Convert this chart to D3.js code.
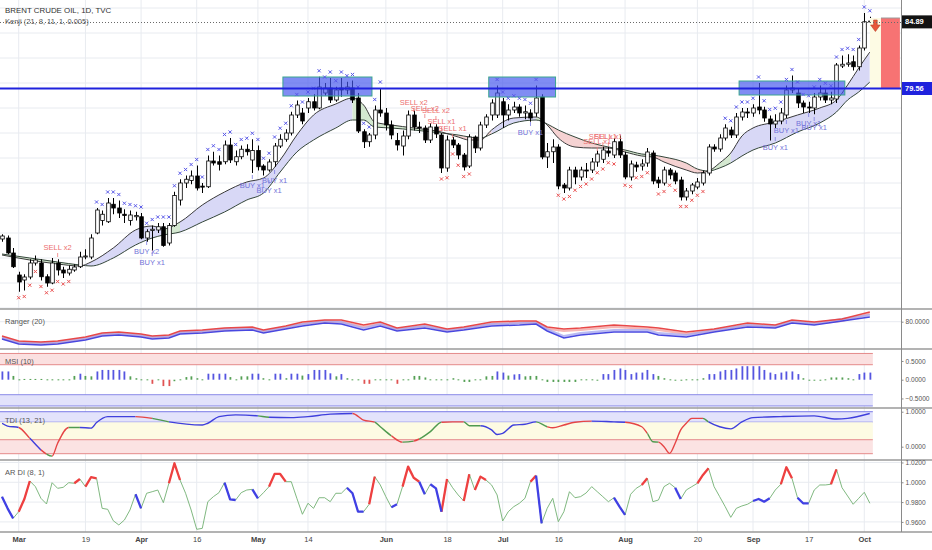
<!DOCTYPE html>
<html>
<head>
<meta charset="utf-8">
<title>Brent Crude Oil 1D</title>
<script src="https://cdnjs.cloudflare.com/ajax/libs/d3/7.8.5/d3.min.js"></script>
<style>
  html, body { margin: 0; padding: 0; background: #fff; overflow: hidden; }
  #chart svg { display: block; font-family: "Liberation Sans", Arial, sans-serif; }
</style>
</head>
<body>
<div id="chart"></div>
<script>
'use strict';

// daily bars, one per trading day from late Feb 2018 to early Oct 2018
var openP = [67.52,67.6,66.4,64.64,64.24,64.48,65.6,65.6,64.5,64.0,
  65.6,65.04,64.8,65.04,65.3,66.08,66.08,68.0,69.0,68.9,
  70.3,70.0,69.5,69.0,69.3,69.3,67.6,68.2,68.24,68.5,
  67.2,68.6,70.64,72.0,72.2,72.56,71.75,71.7,73.76,73.7,
  73.7,75.04,73.7,74.1,74.7,73.84,74.6,73.36,73.04,73.7,
  74.96,75.5,76.0,77.44,77.6,78.0,78.5,78.0,79.2,79.6,
  78.64,79.6,79.44,79.6,78.8,76.1,75.3,75.84,77.84,77.6,
  76.64,75.4,74.96,75.76,77.44,76.48,76.4,75.44,76.48,75.84,
  73.2,75.44,75.04,74.24,73.36,75.68,74.8,76.64,77.44,77.44,
  78.5,77.44,77.84,78.08,77.6,77.6,77.6,78.88,74.08,74.5,
  74.88,71.84,71.6,73.04,72.48,73.04,73.04,73.68,73.9,74.56,
  74.24,75.3,74.24,72.48,73.44,73.36,73.6,74.4,72.24,72.0,
  73.04,72.8,72.24,70.88,71.36,71.68,72.0,72.8,74.88,74.72,
  75.6,76.24,75.84,77.28,77.68,77.6,78.08,77.84,77.12,76.72,
  76.96,77.44,79.44,79.2,78.4,78.08,78.0,78.88,79.2,78.64,
  78.72,81.36,81.5,81.7,81.3,82.8,84.96];
var highP = [67.9,67.8,66.8,64.9,64.7,65.9,66.2,65.9,64.7,66.0,
  65.9,65.3,65.4,65.5,66.5,66.7,67.9,70.0,69.8,70.8,
  70.8,70.6,69.9,69.8,69.7,69.6,68.3,68.6,68.8,68.8,
  68.8,71.3,72.3,72.6,73.0,73.4,72.0,74.2,74.5,74.2,
  75.4,75.6,74.6,75.0,75.1,75.5,75.0,73.5,73.9,75.2,
  75.9,76.3,77.7,78.6,78.0,78.8,79.1,80.5,80.0,80.4,
  79.7,80.4,80.1,80.2,79.2,76.3,76.0,78.2,79.6,78.0,
  77.0,76.0,76.2,77.8,77.8,76.9,76.6,76.8,76.7,76.0,
  75.8,75.7,75.2,74.4,75.9,75.8,76.9,77.5,78.7,79.8,
  78.8,78.3,78.5,78.3,78.2,77.9,79.8,79.1,75.2,75.5,
  75.1,72.0,73.3,73.3,73.3,73.6,74.0,74.6,74.9,74.9,
  75.6,75.8,74.5,73.8,73.7,73.9,74.8,74.6,72.5,73.3,
  73.2,73.0,72.5,71.6,72.0,72.4,73.0,75.1,75.1,75.9,
  76.7,76.5,77.6,78.0,78.0,78.3,80.0,78.1,77.4,77.5,
  78.0,79.8,80.6,79.6,78.6,78.5,79.2,79.8,79.5,79.3,
  81.6,82.2,82.3,82.2,83.0,85.6,85.3];
var lowP = [67.3,66.3,65.2,63.3,63.4,64.3,65.4,64.2,63.7,63.9,
  64.6,64.4,64.6,64.9,65.2,65.9,65.9,67.9,68.6,68.8,
  69.5,69.2,68.8,68.6,69.0,67.5,67.3,66.6,68.0,66.9,
  67.0,68.5,70.2,71.6,71.9,71.4,71.2,71.6,73.4,73.0,
  73.5,73.6,73.4,73.9,74.2,72.8,73.0,72.6,72.9,73.3,
  74.8,75.3,75.8,77.2,76.7,77.6,77.8,77.9,79.0,78.4,
  78.5,78.9,79.1,78.4,76.0,74.8,74.9,75.5,77.3,76.2,
  75.5,74.6,74.2,75.5,76.2,76.0,75.2,75.2,75.6,72.8,
  72.9,74.8,73.9,73.0,73.2,74.4,74.6,76.4,77.0,77.2,
  76.4,77.0,77.6,77.3,77.1,76.9,77.3,73.9,73.2,73.6,
  71.5,71.2,71.4,71.9,72.2,72.4,72.8,73.3,73.6,74.1,
  74.0,74.0,72.3,72.2,72.9,73.0,73.3,71.9,71.6,71.8,
  72.3,71.9,70.6,70.6,71.1,71.5,71.8,72.6,74.5,74.5,
  75.4,75.6,75.6,77.0,77.2,77.3,77.5,76.9,75.4,76.4,
  76.7,77.2,79.2,78.0,77.6,77.6,77.5,78.6,78.4,78.3,
  78.4,81.2,81.3,81.0,81.0,82.6,84.5];
var closeP = [67.76,66.4,65.3,64.08,64.48,65.6,65.84,64.5,64.0,65.6,
  65.04,64.8,65.1,65.28,66.08,66.16,67.6,69.84,69.5,70.4,
  70.0,69.6,69.4,69.44,69.4,67.6,68.1,68.3,68.5,67.0,
  68.6,71.0,72.0,72.3,72.56,71.6,71.7,73.76,73.6,73.5,
  75.04,73.84,74.1,74.7,74.5,74.6,73.3,73.04,73.68,74.96,
  75.5,76.0,77.44,78.24,76.96,78.5,78.0,79.68,79.6,78.64,
  79.44,79.44,79.68,78.64,76.16,75.3,75.84,77.84,77.6,76.64,
  75.84,75.04,75.76,77.44,76.48,76.4,75.44,76.48,75.92,73.2,
  75.44,75.04,74.24,73.28,75.68,74.8,76.64,77.28,78.4,79.2,
  77.44,77.84,78.08,77.6,77.7,77.2,78.8,74.08,74.5,74.88,
  71.76,71.6,73.04,72.48,73.04,72.96,73.68,74.32,74.64,74.4,
  75.3,74.24,72.48,73.52,73.28,73.52,74.48,72.16,72.0,73.04,
  72.64,72.16,70.88,71.36,71.84,72.08,72.8,74.88,74.72,75.6,
  76.4,75.84,77.28,77.68,77.6,78.0,77.84,77.2,76.72,76.96,
  77.6,79.44,79.6,78.4,78.08,78.0,78.88,79.2,78.64,78.8,
  81.44,81.5,81.6,81.3,82.8,84.9,84.89];

// time axis: bar index of each label
var dateTicks = [3, 15, 25, 35, 46, 55, 69, 80, 90, 100, 112, 125, 135, 145, 155];
var dateLabels = ['Mar', '19', 'Apr', '16', 'May', '14', 'Jun', '18', 'Jul', '16', 'Aug', '20', 'Sep', '17', 'Oct'];
var priceTicks = [62, 64, 66, 68, 70, 72, 74, 76, 78, 80, 82, 84, 86];
var lastPrice = 84.89;
var levelPrice = 79.56;

// Kenji (21, 8, 11, 1, 0.005) lines, tone of the fill after each knot
var kenjiIdx = [0,5,10,14,16,20,24,27,29,32,36,40,44,47,50,53,56,60,63,65,67,70,74,79,82,84,86,88,92,96,
  98,100,103,106,109,112,115,117,119,123,125,127,129,131,133,135,139,143,147,150,152,154,156];
var kenjiFast = [66.24,65.84,65.52,65.36,65.68,66.8,68.24,68.56,68.32,68.88,70.24,71.28,72.08,72.4,73.84,75.84,77.44,78.32,78.8,78.24,
  76.88,76.64,76.4,76.08,75.68,75.44,75.44,76.24,77.2,77.28,76.64,75.6,74.88,74.8,74.8,74.48,74.16,74.08,73.68,73.04,
  72.8,72.96,73.6,74.4,75.76,76.4,76.88,77.44,78.0,78.64,79.84,81.2,82.48];
var kenjiSlow = [66.32,66.0,65.68,65.44,65.36,66.0,67.04,67.6,67.84,68.08,68.88,69.68,70.64,71.2,72.88,74.48,75.44,76.4,77.04,77.04,
  76.48,76.4,76.24,76.0,75.84,75.68,75.6,75.92,76.8,77.04,76.72,76.24,75.68,75.2,74.88,74.64,74.32,74.24,74.08,73.6,
  73.12,72.96,73.2,73.6,74.16,74.64,75.2,76.08,76.8,77.68,78.64,79.28,80.08];
var kenjiTone = ['g','g','g','b','b','b','b','b','g','b','b','b','b','b','b','b','b','b','g','g',
  'g','g','g','r','r','r','r','b','b','g','r','r','r','r','r','g','g','r','r','r',
  'r','g','g','b','b','b','b','b','b','b','b','b','b'];

// bars marked with a cross above the high (buy) or below the low (sell)
var buyCrossRuns = [[17, 68], [89, 96], [130, 156]];
var sellCrossRuns = [[3, 12], [79, 84], [100, 110], [112, 116], [118, 126]];

// signal labels
var sigIdx = [10, 26, 27, 45, 49, 48, 74, 76, 78, 79, 81, 95, 108, 109, 107, 139, 141, 145, 146];
var sigText = ['SELL x2', 'BUY x2', 'BUY x1', 'BUY x1', 'BUY x1', 'BUY x1', 'SELL x2', 'SELL x2', 'SELL x2', 'SELL x1',
  'SELL x1', 'BUY x1', 'SELL x1', 'SELL x1', 'SELL x1', 'BUY x1', 'BUY x1', 'BUY x1', 'BUY x1'];
var sigPrice = [66.64, 66.32, 65.44, 71.6, 72.0, 71.2, 78.24, 77.76, 77.6, 76.72,
  76.16, 75.84, 75.52, 75.52, 75.12, 74.64, 76.0, 76.56, 76.24];

// resistance boxes
var zoneStart = [51, 88, 133];
var zoneEnd = [66, 99, 151];
var zoneTop = [80.48, 80.48, 80.16];
var zoneBottom = [78.96, 78.88, 79.04];

// short position tool at the right edge
var posIdx = [156, 158, 161.4];
var posTop = 85.2;
var arrowIdx = 157;
var arrowTop = 85.04;

// Ranger (20)
var rangerIdx = [0,3,7,10,15,18,21,25,27,30,32,36,40,45,47,51,54,58,61,65,68,71,76,80,83,88,93,96,98,101,104,110,116,118,123,128,134,139,142,146,151,156];
var rangerUpper = [69.79,66.21,65.5,66.21,69.07,71.93,72.64,71.21,69.79,70.5,73.36,74.07,75.5,76.21,74.07,76.93,79.79,81.21,81.21,77.64,
  79.79,75.5,78.36,74.79,76.21,79.79,80.5,80.5,76.21,74.79,75.5,77.64,76.21,75.5,72.64,74.79,79.07,77.64,81.21,79.79,81.93,86.93];
var rangerLower = [67.64,64.07,63.36,64.07,66.93,69.79,70.5,69.07,67.64,68.36,71.21,71.93,73.36,74.07,71.93,74.79,76.93,79.07,78.36,74.07,
  76.93,73.36,75.5,72.64,74.07,76.93,77.64,78.36,73.36,68.36,70.5,72.64,72.64,70.5,69.07,72.64,76.21,75.5,79.07,77.64,80.5,83.36];
var rangerTicks = [80];

// MSI (10)
var msiVals = [0.22,0.22,0.10,0.01,0.02,0.02,0.02,0.02,0.01,0.01,
  0.01,0.01,0.01,0.10,0.16,0.10,0.09,0.22,0.26,0.26,
  0.26,0.26,0.22,0.09,0.04,0.01,0.01,-0.11,0.01,-0.17,
  -0.17,-0.04,0.01,0.07,0.09,0.04,0.01,0.16,0.16,0.16,
  0.16,0.07,0.01,0.09,0.09,0.16,0.16,0.04,0.01,0.16,
  0.16,0.04,0.16,0.16,0.11,0.15,0.26,0.26,0.26,0.17,
  0.09,0.15,0.04,0.01,0.01,-0.11,-0.11,0.01,0.01,0.01,
  0.01,-0.11,0.01,0.01,0.10,0.10,0.06,0.01,0.01,0.01,
  0.01,0.04,0.01,-0.06,-0.06,0.01,0.01,0.09,0.10,0.22,
  0.19,0.11,0.14,0.15,0.09,0.10,0.10,0.01,-0.06,-0.06,
  -0.06,-0.06,-0.06,-0.06,0.01,0.01,0.01,0.00,0.15,0.15,
  0.26,0.30,0.26,0.15,0.19,0.19,0.26,0.15,0.10,0.04,
  0.01,0.00,0.00,0.01,0.01,0.01,0.04,0.15,0.15,0.22,
  0.26,0.26,0.30,0.36,0.36,0.36,0.36,0.26,0.19,0.15,
  0.19,0.22,0.22,0.15,0.04,0.00,-0.02,0.00,0.01,0.06,
  0.06,0.06,0.04,0.01,0.15,0.19,0.19];
var msiTicks = [0.5, 0, -0.5];

// TDI (13, 21)
var tdiIdx = [0,1,3,5,7,8,9,10,12,14,16,17,19,24,27,30,36,37,39,42,46,48,52,55,59,63,65,67,68,70,
  72,74,75,77,79,81,83,84,86,88,89,90,92,94,96,98,99,101,103,106,110,112,115,116,117,118,119,120,121,122,
  123,124,126,127,129,131,133,135,140,146,150,152,156];
var tdiVals = [0.67,0.59,0.55,0.24,-0.09,-0.21,-0.27,0.10,0.55,0.55,0.53,0.69,0.86,0.86,0.81,0.71,0.62,0.67,0.86,0.91,
  0.88,0.84,0.83,0.86,0.93,0.95,0.76,0.70,0.57,0.31,0.13,0.16,0.22,0.43,0.70,0.71,0.71,0.60,0.60,0.48,
  0.35,0.38,0.62,0.64,0.71,0.57,0.54,0.62,0.70,0.73,0.71,0.70,0.57,0.38,0.14,0.13,0.00,-0.19,0.10,0.48,
  0.67,0.81,0.81,0.71,0.57,0.51,0.71,0.83,0.86,0.88,0.79,0.81,0.95];
var tdiTone = ['b','b','r','b','r','g','r','r','g','b','b','b','b','r','g','b','b','b','b','b',
  'g','b','b','b','b','r','r','g','g','r','g','r','g','g','r','r','g','g','b','b',
  'b','b','b','b','g','r','r','r','r','b','b','r','r','g','g','r','r','r','r','r',
  'r','r','g','b','b','b','b','b','b','b','b','b','b'];
var tdiTicks = [1, 0];

// AR DI (8, 1)
var ardiVals = [0.9855,0.9737,0.9636,0.9703,0.9828,1.0013,0.9956,0.9838,0.9781,0.9996,
  0.9939,0.9949,0.9996,0.9990,1.0033,0.9956,1.0051,1.0040,0.9737,0.9727,
  0.9612,0.9569,0.9619,0.9720,0.9879,0.9737,0.9889,0.9905,0.9922,0.9794,
  0.9990,1.0192,1.0023,0.9889,0.9720,0.9525,0.9535,0.9804,0.9855,0.9895,
  0.9996,0.9828,0.9821,0.9895,0.9922,0.9929,0.9838,0.9895,0.9956,1.0084,
  1.0084,1.0006,1.0006,0.9838,0.9677,0.9788,0.9737,0.9844,0.9844,0.9804,
  0.9889,0.9889,0.9945,0.9889,0.9703,0.9703,0.9778,1.0057,0.9973,0.9855,
  0.9747,0.9778,0.9956,1.0158,1.0046,1.0006,0.9879,0.9980,0.9939,0.9703,
  1.0033,0.9945,0.9872,0.9811,1.0081,0.9922,1.0057,1.0023,0.9973,0.9872,
  0.9609,0.9703,0.9754,0.9788,0.9838,1.0006,1.0067,0.9586,0.9737,0.9838,
  0.9602,0.9703,0.9905,0.9844,0.9855,0.9892,0.9956,0.9905,0.9855,0.9804,
  0.9844,0.9754,0.9670,0.9879,0.9939,0.9973,1.0040,0.9804,0.9821,0.9956,
  0.9990,0.9945,0.9831,0.9922,0.9956,0.9990,1.0074,1.0141,0.9956,0.9855,
  0.9754,0.9646,0.9737,0.9761,0.9778,0.9811,0.9831,0.9804,0.9838,0.9922,
  0.9980,1.0152,1.0040,0.9844,0.9788,0.9788,0.9922,0.9973,0.9973,0.9980,
  1.0131,0.9945,0.9862,0.9778,0.9838,0.9899,0.9788];
var ardiRedRuns = [[3,5],[13,14],[15,17],[30,32],[48,51],[66,67],[72,75],[79,80],[83,84],[85,87],[95,96],[115,116],[125,127],[140,142],[149,150]];
var ardiBlueRuns = [[0,2],[24,25],[40,42],[45,46],[62,65],[70,71],[75,76],[77,79],[96,97],[110,112],[121,122],[135,138],[143,145]];
var ardiTicks = [1.02, 1.0, 0.98, 0.96];

var width = 932, height = 550, plotW = 901;
var gridColor = '#e8ebf0';
var axisText = '#555';
var fontSize = '7.5px';
var toneFill = {b: '#d8d8f6', r: '#f5d2d2', g: '#d4e8d0'};
var toneLine = {b: '#3f3fdc', r: '#e64545', g: '#4f9a4f'};

var svg = d3.select('#chart').append('svg')
  .attr('width', width)
  .attr('height', height)
  .style('font-size', fontSize);
var defs = svg.append('defs');

var x = d3.scaleLinear().domain([-0.36, 161.6]).range([0, plotW]);
var yMain = d3.scaleLinear().domain([61.92, 86.64]).range([309, 0]);
var yRanger = d3.scaleLinear().domain([60.5, 89.07]).range([349, 309]);
var yMsi = d3.scaleLinear().domain([-0.755, 0.819]).range([408, 349]);
var yTdi = d3.scaleLinear().domain([-0.38, 1.106]).range([460, 408]);
var yArdi = d3.scaleLinear().domain([0.9498, 1.0225]).range([532, 460]);

var clipCount = 0;
function clipRect(x0, y0, w, h) {
  var id = 'clip' + (clipCount++);
  defs.append('clipPath').attr('id', id).append('rect')
    .attr('x', x0).attr('y', y0).attr('width', w).attr('height', h);
  return 'url(#' + id + ')';
}

function toneRuns(idx, tones) {
  var runs = [];
  for (var k = 0; k < idx.length - 1; k++) {
    var last = runs[runs.length - 1];
    if (last && last.tone === tones[k]) {
      last.to = idx[k + 1];
    } else {
      runs.push({tone: tones[k], from: idx[k], to: idx[k + 1]});
    }
  }
  return runs;
}

function expandRuns(runs) {
  var out = [];
  runs.forEach(function(r) {
    for (var i = r[0]; i <= r[1]; i++) out.push(i);
  });
  return out;
}

// vertical grid lines through all panes
svg.append('g').selectAll('line').data(dateTicks).join('line')
  .attr('x1', function(d) { return x(d); })
  .attr('x2', function(d) { return x(d); })
  .attr('y1', 0).attr('y2', 532)
  .attr('stroke', gridColor);

// ---------- main pane ----------
var main = svg.append('g').attr('clip-path', clipRect(0, 0, plotW, 309));

main.append('g').selectAll('line').data(priceTicks).join('line')
  .attr('x1', 0).attr('x2', plotW)
  .attr('y1', function(d) { return yMain(d); })
  .attr('y2', function(d) { return yMain(d); })
  .attr('stroke', gridColor);

var kenji = kenjiIdx.map(function(d, k) {
  return {i: d, fast: kenjiFast[k], slow: kenjiSlow[k]};
});
var kenjiArea = d3.area()
  .x(function(d) { return x(d.i); })
  .y0(function(d) { return yMain(d.slow); })
  .y1(function(d) { return yMain(d.fast); })
  .curve(d3.curveMonotoneX);
toneRuns(kenjiIdx, kenjiTone).forEach(function(run) {
  main.append('path').datum(kenji)
    .attr('d', kenjiArea)
    .attr('fill', toneFill[run.tone])
    .attr('clip-path', clipRect(x(run.from), 0, x(run.to) - x(run.from), 309));
});
main.append('path').datum(kenji)
  .attr('d', d3.line().x(function(d) { return x(d.i); }).y(function(d) { return yMain(d.slow); }).curve(d3.curveMonotoneX))
  .attr('fill', 'none').attr('stroke', '#34463a').attr('stroke-width', 1);
main.append('path').datum(kenji)
  .attr('d', d3.line().x(function(d) { return x(d.i); }).y(function(d) { return yMain(d.fast); }).curve(d3.curveMonotoneX))
  .attr('fill', 'none').attr('stroke', '#3a3a3a').attr('stroke-width', 1);

var candles = openP.map(function(o, i) {
  return {i: i, o: o, h: highP[i], l: lowP[i], c: closeP[i]};
});
var bodyW = 3.6;
main.append('g').selectAll('line').data(candles).join('line')
  .attr('x1', function(d) { return Math.round(x(d.i)) + 0.5; })
  .attr('x2', function(d) { return Math.round(x(d.i)) + 0.5; })
  .attr('y1', function(d) { return yMain(d.h); })
  .attr('y2', function(d) { return yMain(d.l); })
  .attr('stroke', '#000').attr('stroke-width', 1);
main.append('g').selectAll('rect').data(candles).join('rect')
  .attr('x', function(d) { return Math.round(x(d.i)) + 0.5 - bodyW / 2; })
  .attr('y', function(d) { return yMain(Math.max(d.o, d.c)); })
  .attr('width', bodyW)
  .attr('height', function(d) { return Math.max(1, Math.abs(yMain(d.o) - yMain(d.c))); })
  .attr('fill', function(d) { return d.c >= d.o ? '#fff' : '#000'; })
  .attr('stroke', '#000').attr('stroke-width', 0.8);

// resistance boxes
main.append('g').selectAll('rect').data(zoneStart).join('rect')
  .attr('x', function(d) { return x(d) - 2.8; })
  .attr('y', function(d, k) { return yMain(zoneTop[k]); })
  .attr('width', function(d, k) { return x(zoneEnd[k]) - x(d) + 5.6; })
  .attr('height', function(d, k) { return yMain(zoneBottom[k]) - yMain(zoneTop[k]); })
  .attr('fill', '#4455ee').attr('fill-opacity', 0.68)
  .attr('stroke', '#3aa58f').attr('stroke-width', 1);

// crosses
function crossPath(cx, cy) {
  return 'M' + (cx - 1.6) + ',' + (cy - 1.6) + 'L' + (cx + 1.6) + ',' + (cy + 1.6) +
    'M' + (cx + 1.6) + ',' + (cy - 1.6) + 'L' + (cx - 1.6) + ',' + (cy + 1.6);
}
main.append('g').selectAll('path').data(expandRuns(buyCrossRuns)).join('path')
  .attr('d', function(i) { return crossPath(x(i), yMain(highP[i]) - 6); })
  .attr('stroke', '#5858e8').attr('stroke-width', 1).attr('fill', 'none');
main.append('g').selectAll('path').data(expandRuns(sellCrossRuns)).join('path')
  .attr('d', function(i) { return crossPath(x(i), yMain(lowP[i]) + 6); })
  .attr('stroke', '#ea5252').attr('stroke-width', 1).attr('fill', 'none');

// signal labels
var sigs = sigIdx.map(function(d, k) {
  return {i: d, text: sigText[k], p: sigPrice[k], buy: sigText[k].indexOf('BUY') === 0};
});
var sigG = main.append('g');
sigG.selectAll('line').data(sigs).join('line')
  .attr('x1', function(d) { return x(d.i); })
  .attr('x2', function(d) { return x(d.i); })
  .attr('y1', function(d) { return d.buy ? yMain(d.p) - 13 : yMain(d.p) + 3; })
  .attr('y2', function(d) { return d.buy ? yMain(d.p) - 9 : yMain(d.p) + 7; })
  .attr('stroke', function(d) { return d.buy ? '#7b7bde' : '#ee7b7b'; })
  .attr('stroke-width', 0.8);
sigG.selectAll('text').data(sigs).join('text')
  .attr('x', function(d) { return x(d.i); })
  .attr('y', function(d) { return yMain(d.p); })
  .attr('text-anchor', 'middle')
  .attr('fill', function(d) { return d.buy ? '#7373d8' : '#ec6f6f'; })
  .text(function(d) { return d.text; });

// position tool + arrow
main.append('rect')
  .attr('x', x(posIdx[0])).attr('y', yMain(posTop))
  .attr('width', x(posIdx[1]) - x(posIdx[0]))
  .attr('height', yMain(levelPrice) - yMain(posTop))
  .attr('fill', '#fdfbe4');
main.append('rect')
  .attr('x', x(posIdx[1])).attr('y', yMain(posTop))
  .attr('width', x(posIdx[2]) - x(posIdx[1]))
  .attr('height', yMain(levelPrice) - yMain(posTop))
  .attr('fill', '#f77373');
main.append('line')
  .attr('x1', x(posIdx[1])).attr('x2', x(posIdx[2]))
  .attr('y1', yMain(posTop)).attr('y2', yMain(posTop))
  .attr('stroke', '#9a9a9a').attr('stroke-width', 1);
(function() {
  var ax = x(arrowIdx), ay = yMain(arrowTop);
  main.append('path')
    .attr('d', 'M' + (ax - 1.8) + ',' + ay + 'h3.6v5h3l-4.8,6.5l-4.8,-6.5h3z')
    .attr('fill', '#e8573a').attr('stroke', '#b8402a').attr('stroke-width', 0.6);
})();

// horizontal level
main.append('line')
  .attr('x1', 0).attr('x2', plotW)
  .attr('y1', yMain(levelPrice)).attr('y2', yMain(levelPrice))
  .attr('stroke', '#1f22dd').attr('stroke-width', 2);

// ---------- Ranger ----------
var ranger = svg.append('g').attr('clip-path', clipRect(0, 309, plotW, 40));
ranger.append('g').selectAll('line').data(rangerTicks).join('line')
  .attr('x1', 0).attr('x2', plotW)
  .attr('y1', function(d) { return yRanger(d); }).attr('y2', function(d) { return yRanger(d); })
  .attr('stroke', gridColor);
var rangerLine = d3.line().x(function(d, k) { return x(rangerIdx[k]); }).y(function(d) { return yRanger(d); });
ranger.append('path').datum(rangerUpper).attr('d', rangerLine)
  .attr('transform', 'translate(0,1.8)')
  .attr('fill', 'none').attr('stroke', '#f3a4a4').attr('stroke-width', 2.2).attr('stroke-opacity', 0.8);
ranger.append('path').datum(rangerLower).attr('d', rangerLine)
  .attr('transform', 'translate(0,-1.8)')
  .attr('fill', 'none').attr('stroke', '#a9a9ef').attr('stroke-width', 2.2).attr('stroke-opacity', 0.8);
ranger.append('path').datum(rangerUpper).attr('d', rangerLine)
  .attr('fill', 'none').attr('stroke', '#e84848').attr('stroke-width', 1.5);
ranger.append('path').datum(rangerLower).attr('d', rangerLine)
  .attr('fill', 'none').attr('stroke', '#4848e0').attr('stroke-width', 1.5);

// ---------- MSI ----------
var msi = svg.append('g').attr('clip-path', clipRect(0, 349, plotW, 59));
var bandEnd = x(156) + 3;
function band(g, scale, lo, hi, fill, stroke) {
  g.append('rect')
    .attr('x', 0).attr('width', bandEnd)
    .attr('y', scale(hi)).attr('height', scale(lo) - scale(hi))
    .attr('fill', fill);
  g.append('g').selectAll('line').data([lo, hi]).join('line')
    .attr('x1', 0).attr('x2', bandEnd)
    .attr('y1', function(d) { return scale(d); }).attr('y2', function(d) { return scale(d); })
    .attr('stroke', stroke).attr('stroke-width', 1);
}
band(msi, yMsi, 0.4, 0.7, '#fbe0e0', '#e48a8a');
band(msi, yMsi, -0.7, -0.4, '#e2e2fb', '#8a8ae8');
msi.append('g').selectAll('rect').data(msiVals).join('rect')
  .attr('x', function(d, i) { return Math.round(x(i)) - 0.5; })
  .attr('y', function(d) { return d >= 0 ? yMsi(d) : yMsi(0); })
  .attr('width', 1.8)
  .attr('height', function(d) { return Math.max(1, Math.abs(yMsi(d) - yMsi(0))); })
  .attr('fill', function(d) {
    if (d >= 0.13) return '#5555e0';
    if (d <= -0.08) return '#e05353';
    return '#55a055';
  });
msi.append('text').attr('x', 5).attr('y', 364).attr('fill', '#555').text('MSI (10)');

// ---------- TDI ----------
var tdi = svg.append('g').attr('clip-path', clipRect(0, 408, plotW, 52));
band(tdi, yTdi, 0.7, 1.0, '#e3e3fb', '#7a7ae6');
tdi.append('rect').attr('x', 0).attr('width', bandEnd)
  .attr('y', yTdi(0.7)).attr('height', yTdi(0.2) - yTdi(0.7))
  .attr('fill', '#fdfbe3');
band(tdi, yTdi, -0.2, 0.2, '#fbe3e3', '#e48a8a');
var tdiPts = tdiIdx.map(function(d, k) { return {i: d, v: tdiVals[k]}; });
var tdiLine = d3.line().x(function(d) { return x(d.i); }).y(function(d) { return yTdi(d.v); }).curve(d3.curveMonotoneX);
toneRuns(tdiIdx, tdiTone).forEach(function(run) {
  tdi.append('path').datum(tdiPts)
    .attr('d', tdiLine)
    .attr('fill', 'none')
    .attr('stroke', toneLine[run.tone]).attr('stroke-width', 1.4)
    .attr('clip-path', clipRect(x(run.from), 408, x(run.to) - x(run.from), 52));
});
tdi.append('text').attr('x', 5).attr('y', 423).attr('fill', '#555').text('TDI (13, 21)');

// ---------- AR DI ----------
var ardi = svg.append('g').attr('clip-path', clipRect(0, 460, plotW, 72));
ardi.append('g').selectAll('line').data(ardiTicks).join('line')
  .attr('x1', 0).attr('x2', plotW)
  .attr('y1', function(d) { return yArdi(d); }).attr('y2', function(d) { return yArdi(d); })
  .attr('stroke', gridColor);
var ardiLine = d3.line().x(function(d) { return x(d.i); }).y(function(d) { return yArdi(d.v); });
var ardiPts = ardiVals.map(function(v, i) { return {i: i, v: v}; });
ardi.append('path').datum(ardiPts).attr('d', ardiLine)
  .attr('fill', 'none').attr('stroke', '#72b072').attr('stroke-width', 0.9);
function ardiRuns(runs, color) {
  runs.forEach(function(r) {
    ardi.append('path').datum(ardiPts.slice(r[0], r[1] + 1)).attr('d', ardiLine)
      .attr('fill', 'none').attr('stroke', color).attr('stroke-width', 2.3)
      .attr('stroke-linejoin', 'round');
  });
}
ardiRuns(ardiRedRuns, '#ee4040');
ardiRuns(ardiBlueRuns, '#4040e4');
ardi.append('text').attr('x', 5).attr('y', 475).attr('fill', '#555').text('AR DI (8, 1)');

svg.append('text').attr('x', 5).attr('y', 324).attr('fill', '#555').text('Ranger (20)');

// ---------- pane separators and axes ----------
svg.append('g').selectAll('line').data([309, 349, 408, 460, 532]).join('line')
  .attr('x1', 0).attr('x2', width)
  .attr('y1', function(d) { return d; }).attr('y2', function(d) { return d; })
  .attr('stroke', '#9a9a9a').attr('stroke-width', 1.6);
svg.append('line')
  .attr('x1', plotW + 0.5).attr('x2', plotW + 0.5).attr('y1', 0).attr('y2', 532)
  .attr('stroke', '#8a8a8a').attr('stroke-width', 1);

function rightAxis(scale, ticks, fmt, size, clip) {
  var g = svg.append('g')
    .attr('transform', 'translate(' + (plotW + 0.5) + ',0)')
    .call(d3.axisRight(scale).tickValues(ticks).tickFormat(d3.format(fmt)).tickSize(2).tickPadding(2));
  if (clip) g.attr('clip-path', clip);
  g.select('.domain').remove();
  g.selectAll('line').attr('stroke', '#8a8a8a');
  g.selectAll('text').attr('fill', axisText).style('font-size', size)
    .style('font-family', '"Liberation Sans", Arial, sans-serif');
  return g;
}
rightAxis(yMain, priceTicks, '.2f', '7.5px', clipRect(plotW, 0, 40, 308));
rightAxis(yRanger, rangerTicks, '.4f', '6.6px');
rightAxis(yMsi, msiTicks, '.4f', '6.6px');
rightAxis(yTdi, tdiTicks, '.4f', '6.6px');
rightAxis(yArdi, ardiTicks, '.4f', '6.6px');

// price labels on the axis
function priceTag(p, bg) {
  var y = yMain(p);
  svg.append('rect').attr('x', plotW + 1).attr('y', y - 6.5).attr('width', width - plotW - 1).attr('height', 13)
    .attr('fill', bg);
  svg.append('text').attr('x', plotW + 4).attr('y', y).attr('dy', '0.33em')
    .attr('fill', '#fff').style('font-weight', 'bold').text(d3.format('.2f')(p));
}
priceTag(lastPrice, '#131313');
priceTag(levelPrice, '#1f22dd');

var xAxis = svg.append('g')
  .attr('transform', 'translate(0,532)')
  .call(d3.axisBottom(x).tickValues(dateTicks).tickFormat(function(d, i) { return dateLabels[i]; })
    .tickSize(0).tickPadding(5));
xAxis.select('.domain').remove();
xAxis.selectAll('text')
  .attr('fill', '#444')
  .style('font-size', fontSize)
  .style('font-family', '"Liberation Sans", Arial, sans-serif')
  .style('font-weight', function(d, i) { return isNaN(+dateLabels[i]) ? 'bold' : 'normal'; });

// ---------- header ----------
svg.append('text').attr('x', 5).attr('y', 13).attr('fill', '#333').style('font-size', '7.9px')
  .text('BRENT CRUDE OIL, 1D, TVC');
svg.append('text').attr('x', 5).attr('y', 24).attr('fill', '#555').style('font-size', '7.5px')
  .text('Kenji (21, 8, 11, 1, 0.005)');
svg.append('line')
  .attr('x1', 0).attr('x2', plotW)
  .attr('y1', Math.round(yMain(lastPrice)) + 0.5).attr('y2', Math.round(yMain(lastPrice)) + 0.5)
  .attr('stroke', '#6a6a6a').attr('stroke-width', 1).attr('stroke-dasharray', '1,2');
</script>
</body>
</html>
